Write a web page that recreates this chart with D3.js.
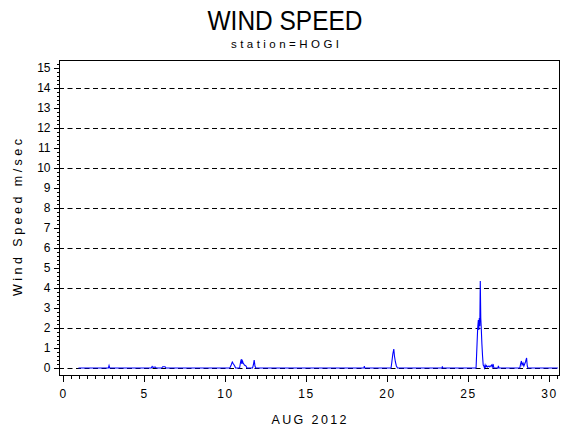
<!DOCTYPE html>
<html>
<head>
<meta charset="utf-8">
<script src="https://cdn.jsdelivr.net/npm/d3@7"></script>
<style>
    body { margin: 0; background: #fff; }
    svg { display: block; }
    text { font-family: "Liberation Sans", Arial, sans-serif; fill: #000; }
    .axis path { display: none; }
    .axis line { stroke: #000; shape-rendering: crispEdges; }
</style>
</head>
<body>
<script>
// day of month (fractional) and wind speed
var days = [0.95, 2.80, 2.84, 2.88, 5.45, 5.50, 5.55, 5.70, 5.75, 6.10, 6.15, 6.30, 6.35,
        10.30, 10.38, 10.45, 10.52, 10.60, 10.65, 10.90, 10.95, 11.00, 11.04, 11.08, 11.12, 11.20, 11.30, 11.35,
        11.70, 11.75, 11.80, 11.85, 11.90, 18.58, 18.60, 18.62,
        20.25, 20.30, 20.36, 20.42, 20.46, 20.52, 20.58, 20.65, 23.40, 23.42, 23.44,
        25.50, 25.56, 25.60, 25.64, 25.67, 25.70, 25.73, 25.76, 25.79, 25.82, 25.86, 25.90, 25.94, 25.98,
        26.02, 26.06, 26.10, 26.15, 26.20, 26.30, 26.35, 26.45, 26.50, 26.55, 26.60, 26.85, 26.88, 26.91,
        28.20, 28.25, 28.30, 28.34, 28.40, 28.45, 28.55, 28.62, 28.66, 28.70, 30.55],
    speeds = [0, 0, 0.12, 0, 0, 0.08, 0.03, 0.05, 0, 0, 0.06, 0.06, 0,
        0, 0.15, 0.3, 0.2, 0.1, 0, 0, 0.25, 0.45, 0.2, 0.35, 0.25, 0.15, 0.1, 0,
        0, 0.15, 0.4, 0.1, 0, 0, 0.1, 0,
        0, 0.3, 0.7, 0.95, 0.6, 0.3, 0.1, 0, 0, 0.08, 0,
        0, 1.2, 2.0, 2.4, 1.9, 2.5, 2.1, 4.35, 2.5, 2.0, 1.2, 0.6, 0.15, 0.1,
        0, 0.15, 0.05, 0.12, 0.05, 0.1, 0.05, 0.15, 0.05, 0.2, 0, 0, 0.1, 0,
        0, 0.2, 0.35, 0.15, 0.25, 0.1, 0.3, 0.5, 0.1, 0, 0],
    xTickLabels = [0, 5, 10, 15, 20, 25, 30],
    yTickLabels = [0, 1, 2, 3, 4, 5, 6, 7, 8, 9, 10, 11, 12, 13, 14, 15],
    refLines = [0, 2, 4, 6, 8, 10, 12, 14];

var width = 570,
    height = 430,
    frame = {left: 59, right: 559, top: 60, bottom: 375},
    svg = d3.select("body").append("svg")
        .attr("width", width)
        .attr("height", height);

var x = d3.scaleLinear().domain([-0.25, 30.62]).range([frame.left, frame.right]),
    y = d3.scaleLinear().domain([-0.35, 15.4]).range([frame.bottom, frame.top]);

// titles
svg.append("text")
    .attr("x", 285).attr("y", 30)
    .attr("text-anchor", "middle")
    .attr("font-size", 27)
    .attr("textLength", 155).attr("lengthAdjust", "spacingAndGlyphs")
    .text("WIND SPEED");
svg.append("text")
    .attr("x", 285).attr("y", 48)
    .attr("text-anchor", "middle")
    .attr("font-size", 11.5)
    .attr("textLength", 108).attr("lengthAdjust", "spacing")
    .text("station=HOGI");

// dashed reference lines
svg.append("g").selectAll("line")
    .data(refLines)
    .enter()
    .append("line")
    .attr("x1", frame.left).attr("x2", frame.right)
    .attr("y1", function (d) { return Math.round(y(d)) + 0.5; })
    .attr("y2", function (d) { return Math.round(y(d)) + 0.5; })
    .attr("stroke", "#000")
    .attr("stroke-dasharray", "5,3.5");

// the series
var line = d3.line()
    .x(function (d, i) { return x(days[i]); })
    .y(function (d, i) { return y(speeds[i]); });

svg.append("path")
    .datum(days)
    .attr("d", line)
    .attr("fill", "none")
    .attr("stroke", "#0000ff")
    .attr("stroke-width", 1.1)
    .attr("stroke-linejoin", "miter");

// frame
svg.append("rect")
    .attr("x", frame.left + 0.5).attr("y", frame.top + 0.5)
    .attr("width", frame.right - frame.left).attr("height", frame.bottom - frame.top)
    .attr("fill", "none")
    .attr("stroke", "#000");

// y axis, major + minor ticks
var yMinor = d3.range(0, 15.3, 0.2).filter(function (v) { return Math.abs(v - Math.round(v)) > 0.01; });

svg.append("g")
    .attr("class", "axis")
    .attr("transform", "translate(" + (frame.left + 0.5) + ",0)")
    .call(d3.axisLeft(y).tickValues(yMinor).tickSize(3).tickFormat(""));
svg.append("g")
    .attr("class", "axis yaxis")
    .attr("transform", "translate(" + (frame.left + 0.5) + ",0)")
    .call(d3.axisLeft(y).tickValues(yTickLabels).tickSize(6).tickPadding(3).tickFormat(d3.format("d")))
    .selectAll("text")
    .attr("font-size", 12)
    .attr("font-family", "Liberation Sans, Arial, sans-serif");

// x axis
var xMinor = d3.range(0.5, 30.6, 0.5).filter(function (v) { return v % 5 !== 0; });

svg.append("g")
    .attr("class", "axis")
    .attr("transform", "translate(0," + (frame.bottom + 0.5) + ")")
    .call(d3.axisBottom(x).tickValues(xMinor).tickSize(3).tickFormat(""));
svg.append("g")
    .attr("class", "axis")
    .attr("transform", "translate(0," + (frame.bottom + 0.5) + ")")
    .call(d3.axisBottom(x).tickValues(xTickLabels).tickSize(6).tickPadding(8).tickFormat(d3.format("d")))
    .selectAll("text")
    .attr("font-size", 12)
    .attr("letter-spacing", 1.5)
    .attr("font-family", "Liberation Sans, Arial, sans-serif");

// axis labels
svg.append("text")
    .attr("x", (frame.left + frame.right) / 2).attr("y", 424)
    .attr("text-anchor", "middle")
    .attr("font-size", 12.5)
    .attr("textLength", 75).attr("lengthAdjust", "spacing")
    .text("AUG 2012");
svg.append("text")
    .attr("transform", "translate(22," + ((frame.top + frame.bottom) / 2) + ") rotate(-90)")
    .attr("text-anchor", "middle")
    .attr("font-size", 12.5)
    .attr("textLength", 157).attr("lengthAdjust", "spacing")
    .text("Wind Speed m/sec");
</script>
</body>
</html>
